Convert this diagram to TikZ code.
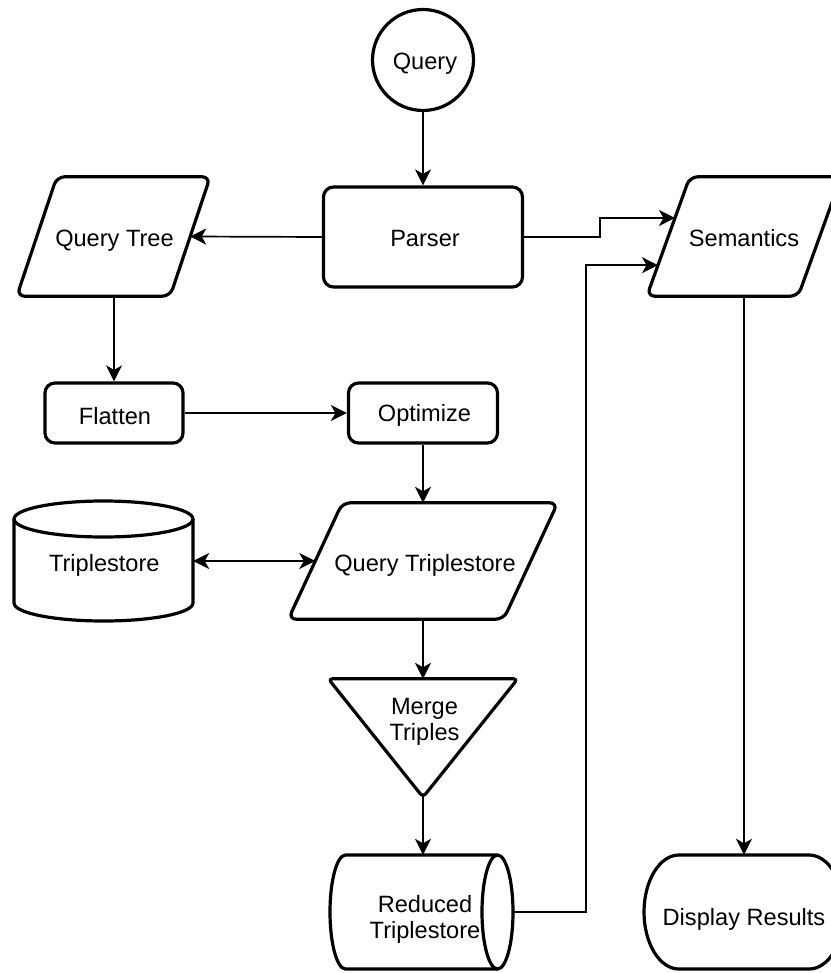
\documentclass[tikz,border=0pt]{standalone}
\usepackage{fontspec}
\setmainfont{Liberation Sans}
\usetikzlibrary{arrows.meta,calc}
\begin{document}
\begin{tikzpicture}[x=1pt,y=-1pt,
  font=\fontsize{23.6}{26}\selectfont,
  shapeline/.style={draw=black,line width=3.2pt,line join=round},
  rbox/.style={shapeline,rectangle,rounded corners=10pt,inner sep=0pt},
  frame/.style={rectangle,inner sep=0pt},
  lbl/.style={inner sep=0pt,anchor=base},
  mlbl/.style={inner sep=0pt,align=center,anchor=center},
  tip/.tip={Stealth[length=16pt,width=16pt,inset=4.5pt]},
  conn/.style={line width=1.7pt,-tip},
  conntwo/.style={line width=1.7pt,tip-tip},
]
\useasboundingbox (0,0) rectangle (830,973);

% Query
\node[shapeline,circle,minimum size=101pt,inner sep=0pt] (query) at (423,60) {};
\node[lbl] (querylbl) at (425,70) {Query};

% Parser
\node[rbox,minimum width=199pt,minimum height=100pt] (parser) at (423,237) {};
\node[lbl] (parserlbl) at (425,247) {Parser};

% Query Tree (parallelogram)
\node[frame,minimum width=193pt,minimum height=119pt] (qtree) at (113.5,236.5) {};
\draw[shapeline,rounded corners=8pt] ($(qtree.north west)+(40,0)$) -- (qtree.north east)
  -- ($(qtree.south east)+(-40,0)$) -- (qtree.south west) -- cycle;
\node[lbl] (qtreelbl) at (114.5,247) {Query Tree};

% Flatten, Optimize
\node[rbox,minimum width=138pt,minimum height=60pt] (flat) at (114,413) {};
\node[lbl] (flatlbl) at (115,424) {Flatten};
\node[rbox,minimum width=149pt,minimum height=60pt] (opt) at (423,413) {};
\node[lbl] (optlbl) at (424.5,421.5) {Optimize};

% Triplestore (vertical cylinder)
\node[frame,minimum width=179pt,minimum height=120pt] (tstore) at (103.5,561) {};
\draw[shapeline] (14,519) -- (14,603) arc[start angle=180,end angle=0,x radius=89.5,y radius=18] -- (193,519);
\draw[shapeline] (103.5,519) ellipse[x radius=89.5,y radius=18];
\node[lbl] (tstorelbl) at (104.3,571) {Triplestore};

% Query Triplestore (parallelogram)
\node[frame,minimum width=269pt,minimum height=116pt] (qts) at (423,561) {};
\draw[shapeline,rounded corners=8pt] ($(qts.north west)+(54,0)$) -- (qts.north east)
  -- ($(qts.south east)+(-54,0)$) -- (qts.south west) -- cycle;
\node[lbl] (qtslbl) at (425,571.5) {Query Triplestore};

% Merge Triples (triangle)
\node[frame,minimum width=189pt,minimum height=118pt] (merge) at (423,738) {};
\draw[shapeline,rounded corners=4pt] (merge.north west) -- (merge.north east) -- (merge.south) -- cycle;
\node[mlbl] (mergelbl) at (424.5,722) {Merge\\Triples};

% Reduced Triplestore (horizontal cylinder)
\node[frame,minimum width=183pt,minimum height=114pt] (red) at (421.5,912) {};
\draw[shapeline] (497.5,855) -- (345.5,855) arc[start angle=270,end angle=90,x radius=15.5,y radius=57] -- (497.5,969);
\draw[shapeline] (497.5,912) ellipse[x radius=15.5,y radius=57];
\node[mlbl] (redlbl) at (425,919.3) {Reduced\\Triplestore};

% Semantics (parallelogram)
\node[frame,minimum width=194pt,minimum height=119pt] (sem) at (744,236.5) {};
\coordinate (semtl) at ($(sem.north west)+(43,0)$);
\draw[shapeline,rounded corners=8pt] (semtl) -- (sem.north east)
  -- ($(sem.south east)+(-43,0)$) -- (sem.south west) -- cycle;
\node[lbl] (semlbl) at (744,247) {Semantics};
\coordinate (semA) at ($(semtl)!0.345!(sem.south west)$);
\coordinate (semB) at ($(semtl)!0.74!(sem.south west)$);

% Display Results (terminator)
\node[frame,minimum width=200pt,minimum height=114pt] (disp) at (744,912) {};
\draw[shapeline] (679,855) -- (809,855) arc[start angle=-90,end angle=90,x radius=35,y radius=57]
  -- (679,969) arc[start angle=90,end angle=270,x radius=35,y radius=57] -- cycle;
\node[lbl] (displbl) at (744,925) {Display Results};

% Connectors
\draw[conn] (query.south) -- (parser.north);
\draw[conn] (parser.west) -- ($(qtree.east)+(-20,0)$);
\draw[conn] (flat.north |- qtree.south) -- (flat.north);
\draw[conn] (flat.east) -- (opt.west);
\draw[conn] (opt.south) -- (qts.north);
\draw[conntwo] (tstore.east) -- ($(qts.west)+(27,0)$);
\draw[conn] (qts.south) -- (merge.north);
\draw[conn] (merge.south) -- (merge.south |- red.north);
\draw[conn] (parser.east) -- ++(76,0) |- (semA);
\draw[conn] (red.east) -- ++(73,0) |- (semB);
\draw[conn] (sem.south) -- (disp.north);
\end{tikzpicture}
\end{document}
